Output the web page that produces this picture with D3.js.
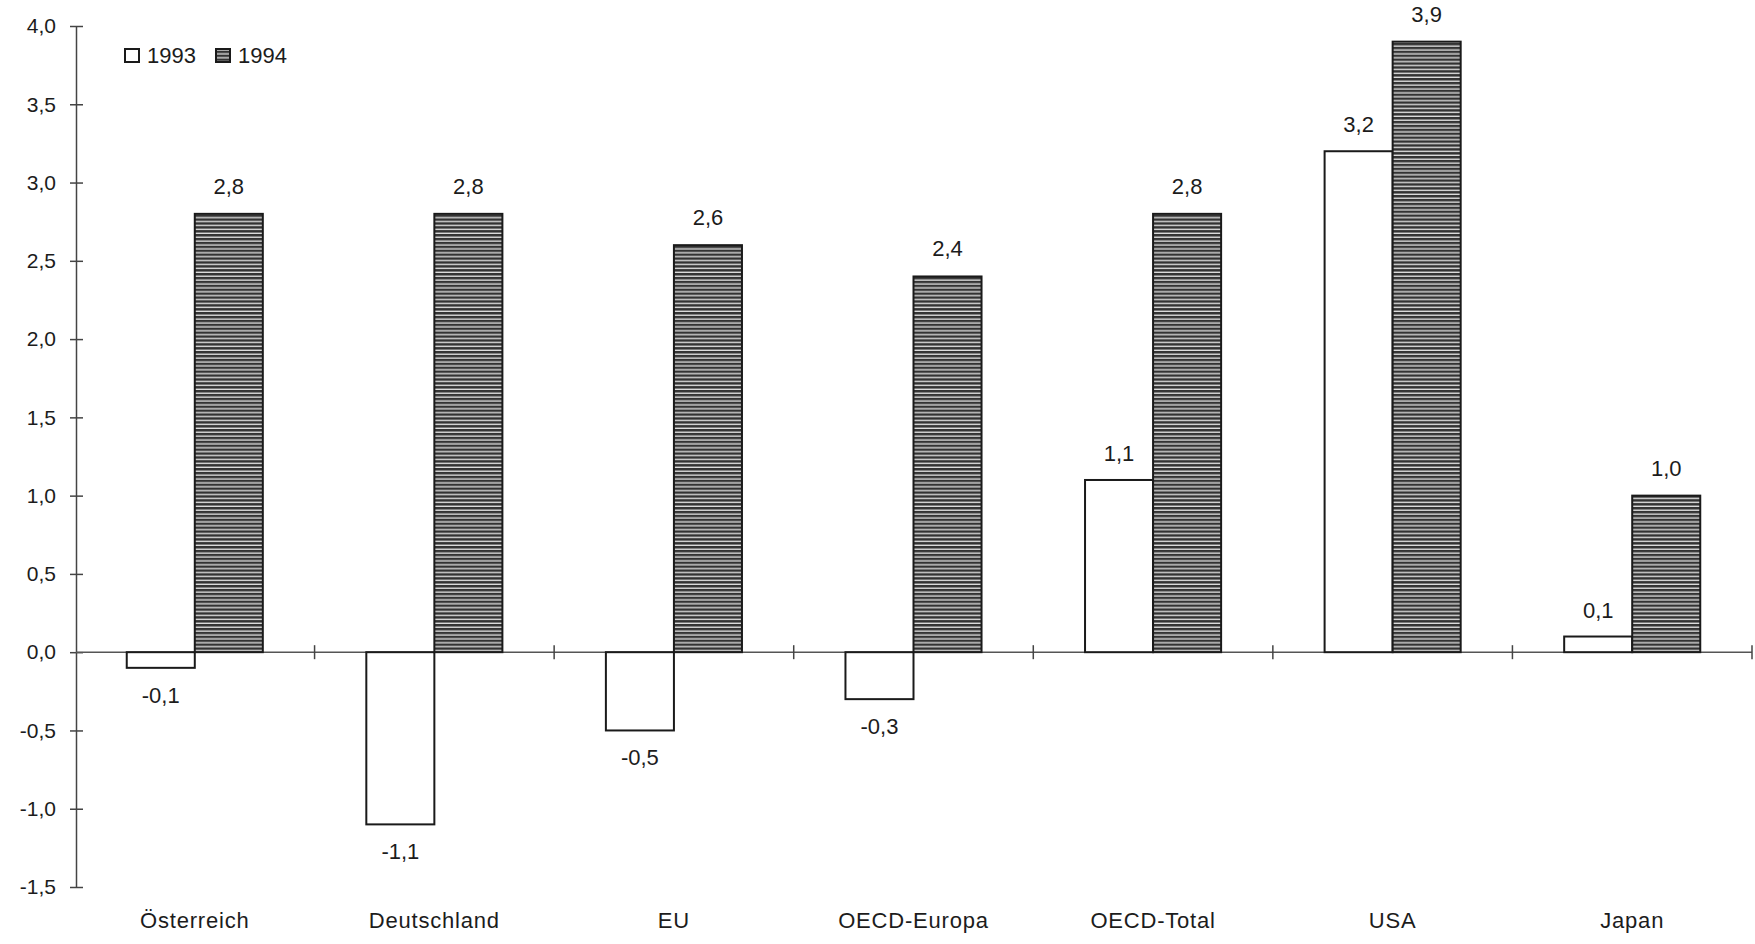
<!DOCTYPE html>
<html>
<head>
<meta charset="utf-8">
<script src="https://cdn.jsdelivr.net/npm/d3@7"></script>
<style>
  html, body { margin: 0; padding: 0; background: #fff; }
  svg { display: block; }
  text { font-family: "Liberation Sans", Arial, sans-serif; fill: #1c1c1c; }
</style>
</head>
<body>
<svg id="chart" width="1755" height="944"></svg>
<script>
// Categories and growth values (percent) for the two years
const categories = ["Österreich", "Deutschland", "EU", "OECD-Europa", "OECD-Total", "USA", "Japan"];
const values1993 = [-0.1, -1.1, -0.5, -0.3, 1.1, 3.2, 0.1];
const values1994 = [2.8, 2.8, 2.6, 2.4, 2.8, 3.9, 1.0];
const seriesNames = ["1993", "1994"];
const yTicks = [-1.5, -1.0, -0.5, 0.0, 0.5, 1.0, 1.5, 2.0, 2.5, 3.0, 3.5, 4.0];

const svg = d3.select("#chart");
const fmt = v => d3.format(".1f")(v).replace(".", ",").replace("−", "-");

const x = d3.scaleBand().domain(categories).range([75, 1752]).paddingInner(0).paddingOuter(0);
const y = d3.scaleLinear().domain([-1.5, 4.0]).range([887, 26]);
const barW = x.bandwidth() * 0.284;

// Horizontal stripe fill for the 1994 bars
const defs = svg.append("defs");
const pat = defs.append("pattern")
  .attr("id", "stripes").attr("patternUnits", "userSpaceOnUse")
  .attr("width", 8).attr("height", 3.9);
pat.append("rect").attr("width", 8).attr("height", 3.9).attr("fill", "#dcdcdc");
pat.append("rect").attr("width", 8).attr("height", 2.5).attr("fill", "#333");

// Y axis
const yAxis = d3.axisLeft(y).tickValues(yTicks).tickFormat(fmt).tickSize(0).tickPadding(20);
const gy = svg.append("g").attr("transform", "translate(76,0)").call(yAxis);
gy.select(".domain").attr("stroke", "#444").attr("stroke-width", 1.5);
gy.selectAll(".tick text").attr("font-size", 21).attr("fill", "#1c1c1c")
  .attr("font-family", "Liberation Sans, Arial, sans-serif");
gy.selectAll(".tick").append("line")
  .attr("x1", -6).attr("x2", 7).attr("stroke", "#444").attr("stroke-width", 1.5);

// Zero line with category separators
const y0 = y(0);
svg.append("line").attr("x1", 76).attr("x2", 1752).attr("y1", y0).attr("y2", y0)
  .attr("stroke", "#555").attr("stroke-width", 1.5);
const bounds = categories.slice(1).map(c => x(c)).concat([x.range()[1]]);
svg.selectAll(".sep").data(bounds).join("line")
  .attr("x1", d => d).attr("x2", d => d)
  .attr("y1", y0 - 7).attr("y2", y0 + 7)
  .attr("stroke", "#444").attr("stroke-width", 1.5);

// Bars
const center = c => x(c) + x.bandwidth() / 2;
const rows = categories.map((c, i) => ({ c, v93: values1993[i], v94: values1994[i] }));

svg.selectAll(".b93").data(rows).join("rect")
  .attr("x", d => center(d.c) - barW)
  .attr("y", d => Math.min(y(d.v93), y0))
  .attr("width", barW)
  .attr("height", d => Math.abs(y(d.v93) - y0))
  .attr("fill", "#fff").attr("stroke", "#1a1a1a").attr("stroke-width", 2);

svg.selectAll(".b94").data(rows).join("rect")
  .attr("x", d => center(d.c))
  .attr("y", d => Math.min(y(d.v94), y0))
  .attr("width", barW)
  .attr("height", d => Math.abs(y(d.v94) - y0))
  .attr("fill", "url(#stripes)").attr("stroke", "#1a1a1a").attr("stroke-width", 2);

// Value labels
svg.selectAll(".l93").data(rows).join("text")
  .attr("x", d => center(d.c) - barW / 2)
  .attr("y", d => d.v93 >= 0 ? y(d.v93) - 19 : y(d.v93) + 35)
  .attr("text-anchor", "middle").attr("font-size", 22)
  .text(d => fmt(d.v93));

svg.selectAll(".l94").data(rows).join("text")
  .attr("x", d => center(d.c) + barW / 2)
  .attr("y", d => d.v94 >= 0 ? y(d.v94) - 20 : y(d.v94) + 35)
  .attr("text-anchor", "middle").attr("font-size", 22)
  .text(d => fmt(d.v94));

// Category labels
svg.selectAll(".cat").data(categories).join("text")
  .attr("x", d => center(d)).attr("y", 928)
  .attr("text-anchor", "middle").attr("font-size", 22).attr("letter-spacing", 0.8)
  .text(d => d);

// Legend
const legend = svg.append("g");
const legendItems = [
  { name: seriesNames[0], fill: "#fff", x: 125 },
  { name: seriesNames[1], fill: "url(#stripes)", x: 216 }
];
legendItems.forEach(it => {
  legend.append("rect").attr("x", it.x).attr("y", 49).attr("width", 14).attr("height", 13)
    .attr("fill", it.fill).attr("stroke", "#1a1a1a").attr("stroke-width", 2);
  legend.append("text").attr("x", it.x + 22).attr("y", 63).attr("font-size", 22).text(it.name);
});
</script>
</body>
</html>
